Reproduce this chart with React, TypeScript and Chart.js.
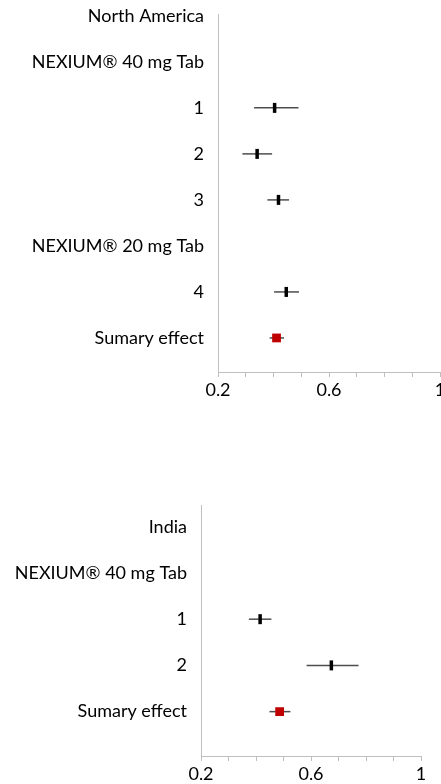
import React, { useEffect, useRef } from 'react';
import { Chart, registerables } from 'chart.js';

Chart.register(...registerables);

const FONT = 'Lato, "Noto Sans", sans-serif';

// North America panel
const naLabels = ['North America', 'NEXIUM® 40 mg Tab', '1', '2', '3', 'NEXIUM® 20 mg Tab', '4', 'Sumary effect'];
const naMean: (number | null)[] = [null, null, 0.404, 0.341, 0.418, null, 0.446, 0.411];
const naLow: (number | null)[] = [null, null, 0.330, 0.288, 0.378, null, 0.402, 0.386];
const naHigh: (number | null)[] = [null, null, 0.490, 0.395, 0.456, null, 0.492, 0.438];
const naSummaryIndex = 7;

// India panel
const inLabels = ['India', 'NEXIUM® 40 mg Tab', '1', '2', 'Sumary effect'];
const inMean: (number | null)[] = [null, null, 0.415, 0.674, 0.486];
const inLow: (number | null)[] = [null, null, 0.374, 0.584, 0.449];
const inHigh: (number | null)[] = [null, null, 0.456, 0.773, 0.525];
const inSummaryIndex = 4;

// x axis
const xMin = 0.2;
const xMax = 1.0;
const xStep = 0.1;
const xTickLabels = [0.2, 0.6, 1];

const errorBarPlugin = {
  id: 'forestErrorBars',
  beforeDatasetsDraw(chart: any, _args: any, opts: any) {
    const { ctx } = chart;
    const x = chart.scales.x;
    const y = chart.scales.y;
    const low: (number | null)[] = opts.low || [];
    const high: (number | null)[] = opts.high || [];
    ctx.save();
    ctx.strokeStyle = opts.color || '#555';
    ctx.lineWidth = opts.width || 1.5;
    low.forEach((lo, i) => {
      const hi = high[i];
      if (lo == null || hi == null) return;
      const py = y.getPixelForValue(i);
      ctx.beginPath();
      ctx.moveTo(x.getPixelForValue(lo), py);
      ctx.lineTo(x.getPixelForValue(hi), py);
      ctx.stroke();
    });
    ctx.restore();
  },
};

type ForestProps = {
  labels: string[];
  mean: (number | null)[];
  low: (number | null)[];
  high: (number | null)[];
  summaryIndex: number;
  top: number;
  width: number;
  height: number;
  padTop: number;
  padRight: number;
  axisWidth: number;
  xAxisHeight: number;
  yMin: number;
  yMax: number;
};

function Forest(p: ForestProps) {
  const ref = useRef<HTMLCanvasElement | null>(null);
  useEffect(() => {
    if (!ref.current) return;
    const studies: { x: number; y: number }[] = [];
    const summary: { x: number; y: number }[] = [];
    p.mean.forEach((m, i) => {
      if (m == null) return;
      if (i === p.summaryIndex) summary.push({ x: m, y: i });
      else studies.push({ x: m, y: i });
    });
    const chart = new Chart(ref.current, {
      type: 'scatter',
      data: {
        datasets: [
          {
            data: studies,
            pointStyle: 'line',
            rotation: 90,
            radius: 5,
            borderWidth: 3.5,
            borderColor: '#000',
            backgroundColor: '#000',
          },
          {
            data: summary,
            pointStyle: 'rect',
            radius: 6.2,
            borderWidth: 0,
            borderColor: '#C00000',
            backgroundColor: '#C00000',
          },
        ],
      } as any,
      options: {
        animation: false,
        responsive: false,
        maintainAspectRatio: false,
        devicePixelRatio: 1,
        layout: { padding: { top: p.padTop, right: p.padRight, left: 0, bottom: 0 } },
        plugins: {
          legend: { display: false },
          tooltip: { enabled: false },
          forestErrorBars: { low: p.low, high: p.high, color: '#4d4d4d', width: 1.5 },
        } as any,
        scales: {
          x: {
            type: 'linear',
            position: 'bottom',
            min: xMin,
            max: xMax,
            afterFit: (s: any) => {
              s.height = p.xAxisHeight;
              s.paddingLeft = 0;
              s.paddingRight = 0;
            },
            ticks: {
              stepSize: xStep,
              autoSkip: false,
              maxRotation: 0,
              padding: 2,
              color: '#000',
              font: { family: FONT, size: 18 },
              callback: (v: any) => {
                const r = Math.round(Number(v) * 10) / 10;
                return xTickLabels.includes(r) ? String(r) : '';
              },
            },
            grid: { display: true, drawOnChartArea: false, drawTicks: true, tickLength: 5, color: '#bfbfbf' },
            border: { display: true, color: '#bfbfbf', width: 1 },
          },
          y: {
            type: 'linear',
            reverse: true,
            min: p.yMin,
            max: p.yMax,
            afterFit: (s: any) => {
              s.width = p.axisWidth;
              s.paddingTop = 0;
              s.paddingBottom = 0;
            },
            afterBuildTicks: (axis: any) => {
              axis.ticks = p.labels.map((_, i) => ({ value: i }));
            },
            ticks: {
              autoSkip: false,
              padding: 14,
              color: '#000',
              font: { family: FONT, size: 18 },
              callback: (v: any) => p.labels[Math.round(Number(v))] ?? '',
            },
            grid: { display: true, drawOnChartArea: false, drawTicks: false, color: '#bfbfbf' },
            border: { display: true, color: '#bfbfbf', width: 1 },
          },
        } as any,
      },
      plugins: [errorBarPlugin],
    });
    return () => chart.destroy();
  }, []);
  return (
    <canvas
      ref={ref}
      width={p.width}
      height={p.height}
      style={{ position: 'absolute', left: 0, top: p.top, width: p.width, height: p.height }}
    />
  );
}

export default function App() {
  return (
    <div
      style={{
        position: 'absolute',
        left: 0,
        top: 0,
        width: 441,
        height: 784,
        overflow: 'hidden',
        background: '#fff',
      }}
    >
      <Forest
        labels={naLabels}
        mean={naMean}
        low={naLow}
        high={naHigh}
        summaryIndex={naSummaryIndex}
        top={0}
        width={460}
        height={410}
        padTop={14}
        padRight={20}
        axisWidth={218}
        xAxisHeight={38}
        yMin={-0.04}
        yMax={7.74}
      />
      <Forest
        labels={inLabels}
        mean={inMean}
        low={inLow}
        high={inHigh}
        summaryIndex={inSummaryIndex}
        top={490}
        width={460}
        height={294}
        padTop={15}
        padRight={39}
        axisWidth={201}
        xAxisHeight={28}
        yMin={-0.47}
        yMax={4.96}
      />
    </div>
  );
}
